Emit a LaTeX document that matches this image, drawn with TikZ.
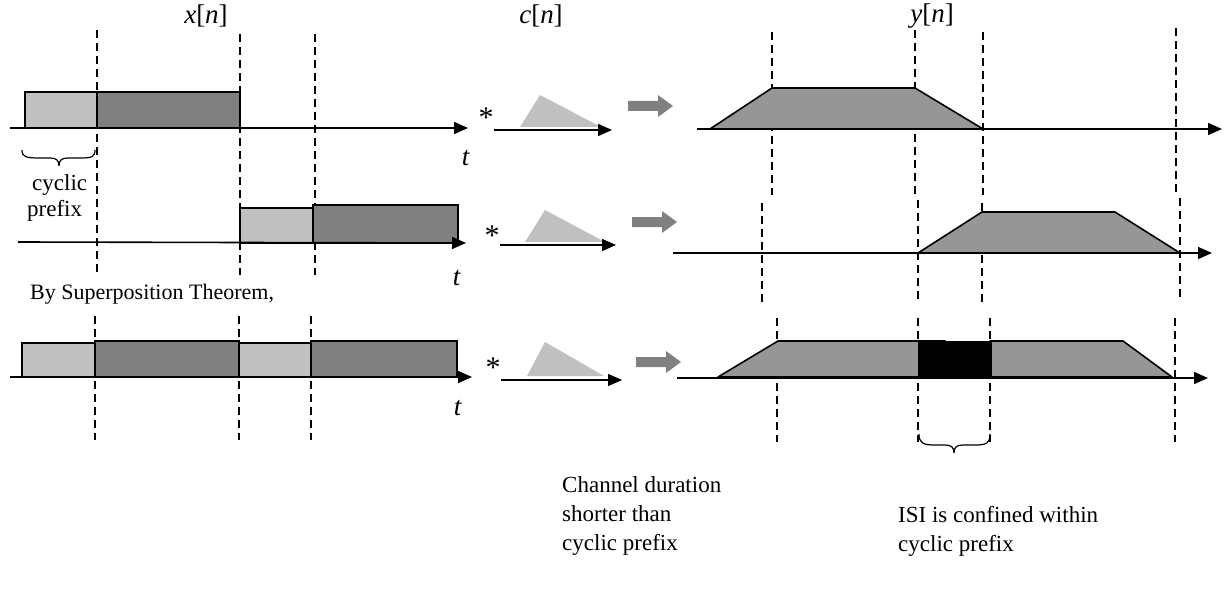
\documentclass[tikz,border=0pt]{standalone}
\usepackage{fontspec}
\setmainfont{Liberation Serif}
\usetikzlibrary{arrows.meta}
\definecolor{cplight}{HTML}{C0C0C0}
\definecolor{symdark}{HTML}{808080}
\definecolor{outgray}{HTML}{969696}
\tikzset{
  axis/.style={line width=1.6pt,-{Triangle[length=14pt,width=12pt]}},
  guide/.style={line width=1.4pt,dash pattern=on 8pt off 5pt},
  cpbox/.style={fill=cplight,draw=black,line width=1.6pt},
  symbox/.style={fill=symdark,draw=black,line width=1.6pt},
  outshape/.style={fill=outgray,draw=black,line width=1.6pt,line join=round},
  chan/.style={fill=cplight,draw=none},
  flow/.style={fill=symdark,draw=none},
  lbl/.style={font=\fontsize{23}{28}\selectfont,inner sep=0pt},
  headline/.style={font=\fontsize{22}{28}\selectfont,inner sep=0pt},
  mathlbl/.style={font=\fontsize{27}{30}\selectfont,inner sep=0pt},
  conv/.style={font=\fontsize{30}{30}\selectfont,inner sep=0pt},
  note/.style={font=\fontsize{23}{29}\selectfont,inner sep=0pt,align=left,anchor=north west},
  brace/.style={line width=1.2pt}
}
\newcommand{\flowarrow}[2]{% gray block arrow starting at (#1,#2)
  \fill[flow] (#1,#2-5) -- (#1+30,#2-5) -- (#1+30,#2-11) -- (#1+45,#2) -- (#1+30,#2+11) -- (#1+30,#2+5) -- (#1,#2+5) -- cycle;}
\newcommand{\sig}[1]{\textit{#1}[\textit{n}]}
\begin{document}
\begin{tikzpicture}[x=1pt,y=-1pt]
\useasboundingbox (0,0) rectangle (1228,596);

% column labels
\node[mathlbl] (xn) at (206,16) {\sig{x}};
\node[mathlbl] (cn) at (541,16) {\sig{c}};
\node[mathlbl] (yn) at (932,16) {\sig{y}};

% ---------- first symbol ----------
\draw[guide] (97,30) -- (97,275);
\draw[guide] (240,34) -- (240,275);
\draw[guide] (315,34) -- (315,275);
\draw[cpbox] (25,92) rectangle (97,128);
\draw[symbox] (97,92) rectangle (240,128);
\coordinate (a1s) at (10,128);
\coordinate (a1e) at (468,128);
\draw[axis] (a1s) -- (a1e);
\node[mathlbl] (t1) at (466,158) {\textit{t}};
\draw[brace] (22,150) .. controls (22,157) and (26,158) .. (40,158) -- (50,158) .. controls (56,158) and (59,160) .. (59,166)
  (59,166) .. controls (59,160) and (62,158) .. (68,158) -- (80,158) .. controls (92,158) and (95,157) .. (95,150);
\node[lbl,anchor=west] (cyc) at (32,185) {cyclic};
\node[lbl,anchor=west] (pre) at (27,211) {prefix};

\node[conv] (s1) at (486,118) {*};
\coordinate (c1s) at (494,130);
\coordinate (c1e) at (612,130);
\fill[chan] (520,127) -- (540,95) -- (601,127) -- cycle;
\draw[axis] (c1s) -- (c1e);
\flowarrow{628}{106}

\draw[guide] (772,32) -- (772,195);
\draw[guide] (915,30) -- (915,195);
\draw[guide] (983,32) -- (983,195);
\draw[guide] (1176,28) -- (1176,195);
\draw[outshape] (710,129) -- (772,88) -- (915,88) -- (983,129) -- cycle;
\coordinate (r1s) at (697,129);
\coordinate (r1e) at (1222,129);
\draw[axis] (r1s) -- (r1e);

% ---------- second symbol ----------
\draw[cpbox] (240,208) rectangle (313,243);
\draw[symbox] (313,205) rectangle (458,243);
\coordinate (a2s) at (18,242);
\coordinate (a2e) at (466,243);
\draw[axis] (a2s) -- (a2e);
\node[mathlbl] (t2) at (457,278) {\textit{t}};

\node[conv] (s2) at (492,236) {*};
\coordinate (c2s) at (500,245);
\coordinate (c2e) at (616,245);
\fill[chan] (525,242) -- (545,210) -- (605,242) -- cycle;
\draw[axis] (c2s) -- (c2e);
\flowarrow{632}{222}

\draw[guide] (762,203) -- (762,302);
\draw[guide] (918,200) -- (918,300);
\draw[guide] (982,203) -- (982,302);
\draw[guide] (1180,198) -- (1180,300);
\draw[outshape] (918,253) -- (982,212) -- (1115,212) -- (1180,253) -- cycle;
\coordinate (r2s) at (673,253);
\coordinate (r2e) at (1212,253);
\draw[axis] (r2s) -- (r2e);

\node[headline,anchor=west] (sup) at (30,294) {By Superposition Theorem,};

% ---------- superposition ----------
\draw[guide] (95,316) -- (95,440);
\draw[guide] (239,316) -- (239,440);
\draw[guide] (311,316) -- (311,440);
\draw[cpbox] (22,343) rectangle (95,377);
\draw[symbox] (95,341) rectangle (239,377);
\draw[cpbox] (239,343) rectangle (311,377);
\draw[symbox] (311,341) rectangle (457,377);
\coordinate (a3s) at (10,377);
\coordinate (a3e) at (472,377);
\draw[axis] (a3s) -- (a3e);
\node[mathlbl] (t3) at (458,408) {\textit{t}};

\node[conv] (s3) at (493,368) {*};
\coordinate (c3s) at (501,380);
\coordinate (c3e) at (622,380);
\fill[chan] (527,376) -- (545,342) -- (604,376) -- cycle;
\draw[axis] (c3s) -- (c3e);
\flowarrow{636}{362}

\draw[guide] (777,318) -- (777,442);
\draw[guide] (918,318) -- (918,442);
\draw[guide] (990,318) -- (990,442);
\draw[guide] (1175,318) -- (1175,442);
\draw[outshape] (718,377) -- (778,341) -- (945,341) -- (950,345) -- (950,377) -- cycle;
\draw[outshape] (990,377) -- (990,341) -- (1123,341) -- (1172,377) -- cycle;
\fill[black] (918,341) rectangle (992,378);
\coordinate (r3s) at (677,378);
\coordinate (r3e) at (1208,378);
\draw[axis] (r3s) -- (r3e);
\draw[brace] (919,434) .. controls (919,443) and (923,445) .. (935,445) -- (945,445) .. controls (951,445) and (954,447) .. (954,453)
  (954,453) .. controls (954,447) and (957,445) .. (963,445) -- (975,445) .. controls (987,445) and (990,443) .. (990,434);

\node[note] (chnote) at (562,476) {Channel duration\\shorter than\\cyclic prefix};
\node[note] (isinote) at (898,506) {ISI is confined within\\cyclic prefix};
\end{tikzpicture}
\end{document}
